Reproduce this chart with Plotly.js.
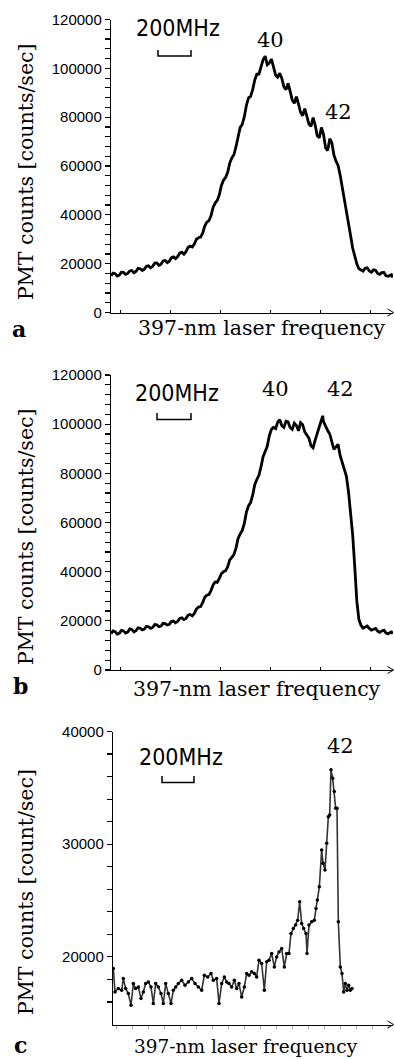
<!DOCTYPE html>
<html>
<head>
<meta charset="utf-8">
<script src="https://cdn.plot.ly/plotly-3.0.1.min.js"></script>
<style>html,body{margin:0;padding:0;background:#fff;}#chart{width:394px;height:1059px;}</style>
</head>
<body>
<div id="chart"></div>
<script>
// ---- Data (frequency offset in MHz, counts/sec) ----
var freqA = [0,12.5,25,37.5,50,62.5,75,87.5,100,112.5,125,137.5,150,162.5,175,187.5,200,212.5,225,237.5,250,262.5,275,287.5,300,312.5,325,337.5,350,362.5,375,387.5,400,412.5,425,437.5,450,462.5,475,487.5,500,512.5,525,537.5,550,562.5,575,587.5,600,612.5,625,637.5,650,662.5,675,687.5,700,712.5,725,737.5,750,762.5,775,787.5,800,812.5,825,837.5,850,862.5,875,887.5,900,912.5,925,937.5,950,962.5,975,987.5,1000,1012.5,1025,1037.5,1050,1062.5,1075,1087.5,1100,1112.5,1125,1137.5,1150,1162.5,1175,1187.5,1200,1212.5,1225,1237.5,1250,1262.5,1275,1287.5,1300,1312.5,1325,1337.5,1350,1362.5,1375,1387.5,1400,1412.5,1425,1437.5,1450,1462.5,1475,1487.5,1500,1512.5,1525,1537.5,1550,1562.5,1575,1587.5,1600,1612.5,1625,1637.5,1650,1662.5,1675,1682.5,1690];
var countsA = [15000,16100,15900,14900,15300,16500,16400,15600,16000,17000,17200,16300,16800,18100,17900,17200,17700,18900,19100,18300,18900,20200,20300,19300,19800,21100,21300,20400,21000,22500,22800,22100,22900,24300,24700,23900,24900,26700,27200,26800,28000,30000,30600,30900,32500,35400,37000,37600,39600,43000,44800,45900,48200,52000,54200,55300,57400,61200,63300,64600,67900,72500,75800,77000,80200,84900,87900,88500,91300,95200,97600,97600,100400,103500,105000,101500,102200,103800,100600,97300,96400,98000,95900,92400,91300,93800,90600,87000,85700,88400,85300,82000,80600,83500,80400,77200,76200,79800,76800,72400,71600,75800,73000,67500,66300,71200,69500,64500,62000,60200,56200,51500,47300,42000,37200,31500,26400,22800,19900,17900,17300,16900,18100,18300,17000,16500,17500,17300,16000,15600,16300,16400,15000,14800,15200,15500,14400];

var freqB = [0,12.5,25,37.5,50,62.5,75,87.5,100,112.5,125,137.5,150,162.5,175,187.5,200,212.5,225,237.5,250,262.5,275,287.5,300,312.5,325,337.5,350,362.5,375,387.5,400,412.5,425,437.5,450,462.5,475,487.5,500,512.5,525,537.5,550,562.5,575,587.5,600,612.5,625,637.5,650,662.5,675,687.5,700,712.5,725,737.5,750,762.5,775,787.5,800,812.5,825,837.5,850,862.5,875,887.5,900,912.5,925,937.5,950,962.5,975,987.5,1000,1012.5,1025,1037.5,1050,1062.5,1075,1087.5,1100,1112.5,1125,1137.5,1150,1162.5,1175,1187.5,1200,1212.5,1225,1237.5,1250,1257.5,1265,1270,1275,1287.5,1300,1312.5,1325,1337.5,1350,1362.5,1375,1387.5,1400,1412.5,1425,1437.5,1450,1462.5,1475,1487.5,1500,1512.5,1525,1537.5,1550,1562.5,1575,1587.5,1600,1612.5,1625,1637.5,1650,1662.5,1675,1682.5,1690];
var countsB = [14800,15900,15600,14600,14900,16100,15900,15000,15400,16700,16500,15500,16000,17200,17000,16300,16600,17800,17600,16900,17300,18500,18400,17600,17900,19000,18900,18300,18600,19800,19900,19200,19800,21000,21200,20500,21000,22300,22600,22000,23000,24800,25600,25800,27400,29600,30400,30700,32300,34600,35800,35600,37300,39200,40000,40400,41900,44800,45800,47000,49600,53500,55400,56800,59600,64200,66800,68100,71100,75400,77500,79200,82600,86800,88900,91000,95300,97900,98700,98200,100800,101800,99400,98700,101200,100900,98600,97900,100400,99500,97300,100600,99800,96900,95600,94300,91200,90400,93500,96200,98900,100400,102600,103400,101000,98900,97400,96000,92600,89700,90800,91800,87200,84600,82000,78800,72500,65000,55000,42000,28000,20500,18200,17000,17300,17900,16900,16200,16600,16900,15800,15300,15900,16200,15000,14700,15300,15500,14700];

var freqC = [2,12,32,52,62,76,92,108,122,136,152,168,182,196,212,228,242,256,272,288,302,316,332,348,362,376,392,412,432,452,472,492,512,532,548,568,588,602,622,636,652,668,682,696,712,728,742,756,772,788,802,816,832,848,862,876,892,908,922,936,952,968,982,996,1012,1028,1042,1056,1068,1082,1096,1108,1120,1132,1144,1158,1164,1176,1192,1208,1218,1226,1238,1252,1260,1272,1282,1292,1300,1308,1318,1328,1336,1344,1352,1364,1374,1384,1394,1404,1414,1424,1434];
var countsC = [18970,16890,17190,17040,18080,17190,16750,15710,17630,17190,17330,16300,16890,17630,17780,17330,15860,17630,17330,16750,15860,17630,16750,15860,17040,17330,17630,17930,17480,17780,18080,17630,17330,17040,18370,18220,18520,17930,18080,15860,17630,18220,17780,17630,17330,17930,17190,17630,16440,17330,18520,18370,18670,18520,18220,19710,19410,17040,19560,19710,20300,19110,20000,20440,20750,19110,20300,20300,22080,22520,22820,23260,24890,22970,22520,22080,20300,22820,23110,23260,24300,25040,26220,29480,28300,27710,30080,32440,32600,36600,35860,34670,33190,33190,23110,19110,18520,16890,17630,17040,17480,17040,17190];

// y-axis tick positions (every minor tick) and their labels ('' = unlabelled minor tick)
var yTicksAB = [0,4000,8000,12000,16000,20000,24000,28000,32000,36000,40000,44000,48000,52000,56000,60000,64000,68000,72000,76000,80000,84000,88000,92000,96000,100000,104000,108000,112000,116000,120000];
var yTickTextAB = ['0','','','','','20000','','','','','40000','','','','','60000','','','','','80000','','','','','100000','','','','','120000'];
var yTicksC = [16000,18000,20000,22000,24000,26000,28000,30000,32000,34000,36000,38000,40000];
var yTickTextC = ['','','20000','','','','','30000','','','','','40000'];

var yTitleAB = "PMT counts [counts/sec]";
var yTitleC = "PMT counts [count/sec]";
var xTitle = "397-nm laser frequency";
var scaleLabel = "200MHz";
var panelLetters = ["a", "b", "c"];
var peakLabelsA = ["40", "42"];
var peakLabelsB = ["40", "42"];
var peakLabelsC = ["42"];

// ---- Layout helpers (pixel -> paper) ----
var W = 394, H = 1059;
function px(x){ return x / W; }
function py(y){ return 1 - y / H; }

var serif = "DejaVu Serif, Liberation Serif, serif";
var sans = "Liberation Sans, Arial, sans-serif";
var narrow = "DejaVu Sans Condensed, Liberation Sans Narrow, Arial Narrow, sans-serif";

var traces = [
  {x: freqA, y: countsA, xaxis: 'x', yaxis: 'y', mode: 'lines', line: {color: '#000', width: 2.8}},
  {x: freqB, y: countsB, xaxis: 'x2', yaxis: 'y2', mode: 'lines', line: {color: '#000', width: 2.8}},
  {x: freqC, y: countsC, xaxis: 'x3', yaxis: 'y3', mode: 'lines+markers', line: {color: '#333', width: 1.6}, marker: {color: '#000', size: 3.5}}
];

function yAx(domain, range, vals, texts, anchor){
  return {
    domain: domain, range: range, anchor: anchor,
    tickmode: 'array', tickvals: vals, ticktext: texts,
    showline: true, linecolor: '#000', linewidth: 1.2, mirror: false,
    ticks: 'outside', ticklen: 5, tickcolor: '#000', tickwidth: 1.2,
    showgrid: false, zeroline: false, ticksuffix: '\u00a0',
    tickfont: {family: sans, size: 15, color: '#000'},
    fixedrange: true
  };
}
function xAx(domain, range, tick0, dtick, anchor, tickcol, ticks){
  return {
    domain: domain, range: range, anchor: anchor,
    showline: true, linecolor: '#000', linewidth: 1.2,
    ticks: ticks, ticklen: 3, tickcolor: tickcol, tick0: tick0, dtick: dtick,
    showticklabels: false, showgrid: false, zeroline: false, fixedrange: true
  };
}

var layout = {
  width: W, height: H,
  margin: {l: 0, r: 0, t: 0, b: 0},
  paper_bgcolor: '#fff', plot_bgcolor: 'rgba(0,0,0,0)',
  showlegend: false,
  xaxis: xAx([px(111), px(393)], [0, 1692], 54, 300, 'y', '#000', 'inside'),
  yaxis: yAx([py(312.5), py(19.5)], [0, 120000], yTicksAB, yTickTextAB, 'x'),
  xaxis2: xAx([px(111), px(393)], [0, 1692], 54, 300, 'y2', '#000', 'inside'),
  yaxis2: yAx([py(670), py(375)], [0, 120000], yTicksAB, yTickTextAB, 'x2'),
  xaxis3: xAx([px(113), px(393)], [0, 1680], 114, 96, 'y3', '#aaa', 'outside'),
  yaxis3: yAx([py(1024.5), py(731.5)], [14000, 40000], yTicksC, yTickTextC, 'x3'),
  annotations: [],
  shapes: []
};

function ann(text, x, y, font, extra){
  var a = {text: text, x: px(x), y: py(y), xref: 'paper', yref: 'paper', showarrow: false,
           xanchor: 'center', yanchor: 'middle', font: font};
  if (extra) for (var k in extra) a[k] = extra[k];
  layout.annotations.push(a);
}
var titleFont = {family: serif, size: 20.5, color: '#000'};
ann(yTitleAB, 26, 172, titleFont, {textangle: -90});
ann(yTitleAB, 26, 537, titleFont, {textangle: -90});
ann(yTitleC, 26, 892, {family: serif, size: 20.5, color: '#000'}, {textangle: -90});
ann(xTitle, 262, 328, titleFont);
ann(xTitle, 257, 689, titleFont);
ann(xTitle, 246, 1046, {family: serif, size: 18.5, color: '#000'});
var letterFont = {family: serif, size: 22, color: '#000'};
ann('<b>' + panelLetters[0] + '</b>', 19, 329, letterFont);
ann('<b>' + panelLetters[1] + '</b>', 20, 686, letterFont);
ann('<b>' + panelLetters[2] + '</b>', 20, 1045, letterFont);
var mhzFont = {family: narrow, size: 23, color: '#000'};
ann(scaleLabel, 178, 28, mhzFont);
ann(scaleLabel, 177, 393, mhzFont);
ann(scaleLabel, 181, 757, mhzFont);
var peakFont = {family: serif, size: 21, color: '#000'};
ann(peakLabelsA[0], 270, 40, peakFont);
ann(peakLabelsA[1], 338, 112, peakFont);
ann(peakLabelsB[0], 275, 389, peakFont);
ann(peakLabelsB[1], 340, 389, peakFont);
ann(peakLabelsC[0], 340, 746, peakFont);

function bracket(x0, x1, yTop, yBot){
  layout.shapes.push({type: 'path', xref: 'paper', yref: 'paper',
    path: 'M ' + px(x0) + ' ' + py(yTop) + ' L ' + px(x0) + ' ' + py(yBot) + ' L ' + px(x1) + ' ' + py(yBot) + ' L ' + px(x1) + ' ' + py(yTop),
    line: {color: '#000', width: 1.5}});
}
bracket(158, 191, 50, 56);
bracket(157, 191, 413, 419.5);
bracket(162, 194, 776, 782.5);

function arrowHead(x, y){
  layout.shapes.push({type: 'path', xref: 'paper', yref: 'paper',
    path: 'M ' + px(x - 6) + ' ' + py(y - 3.5) + ' L ' + px(x) + ' ' + py(y) + ' L ' + px(x - 6) + ' ' + py(y + 3.5),
    line: {color: '#000', width: 1}});
}
arrowHead(393.5, 312.5);
arrowHead(393.5, 670);
arrowHead(393.5, 1024.5);

Plotly.newPlot('chart', traces, layout, {staticPlot: true, displayModeBar: false});
</script>
</body>
</html>
